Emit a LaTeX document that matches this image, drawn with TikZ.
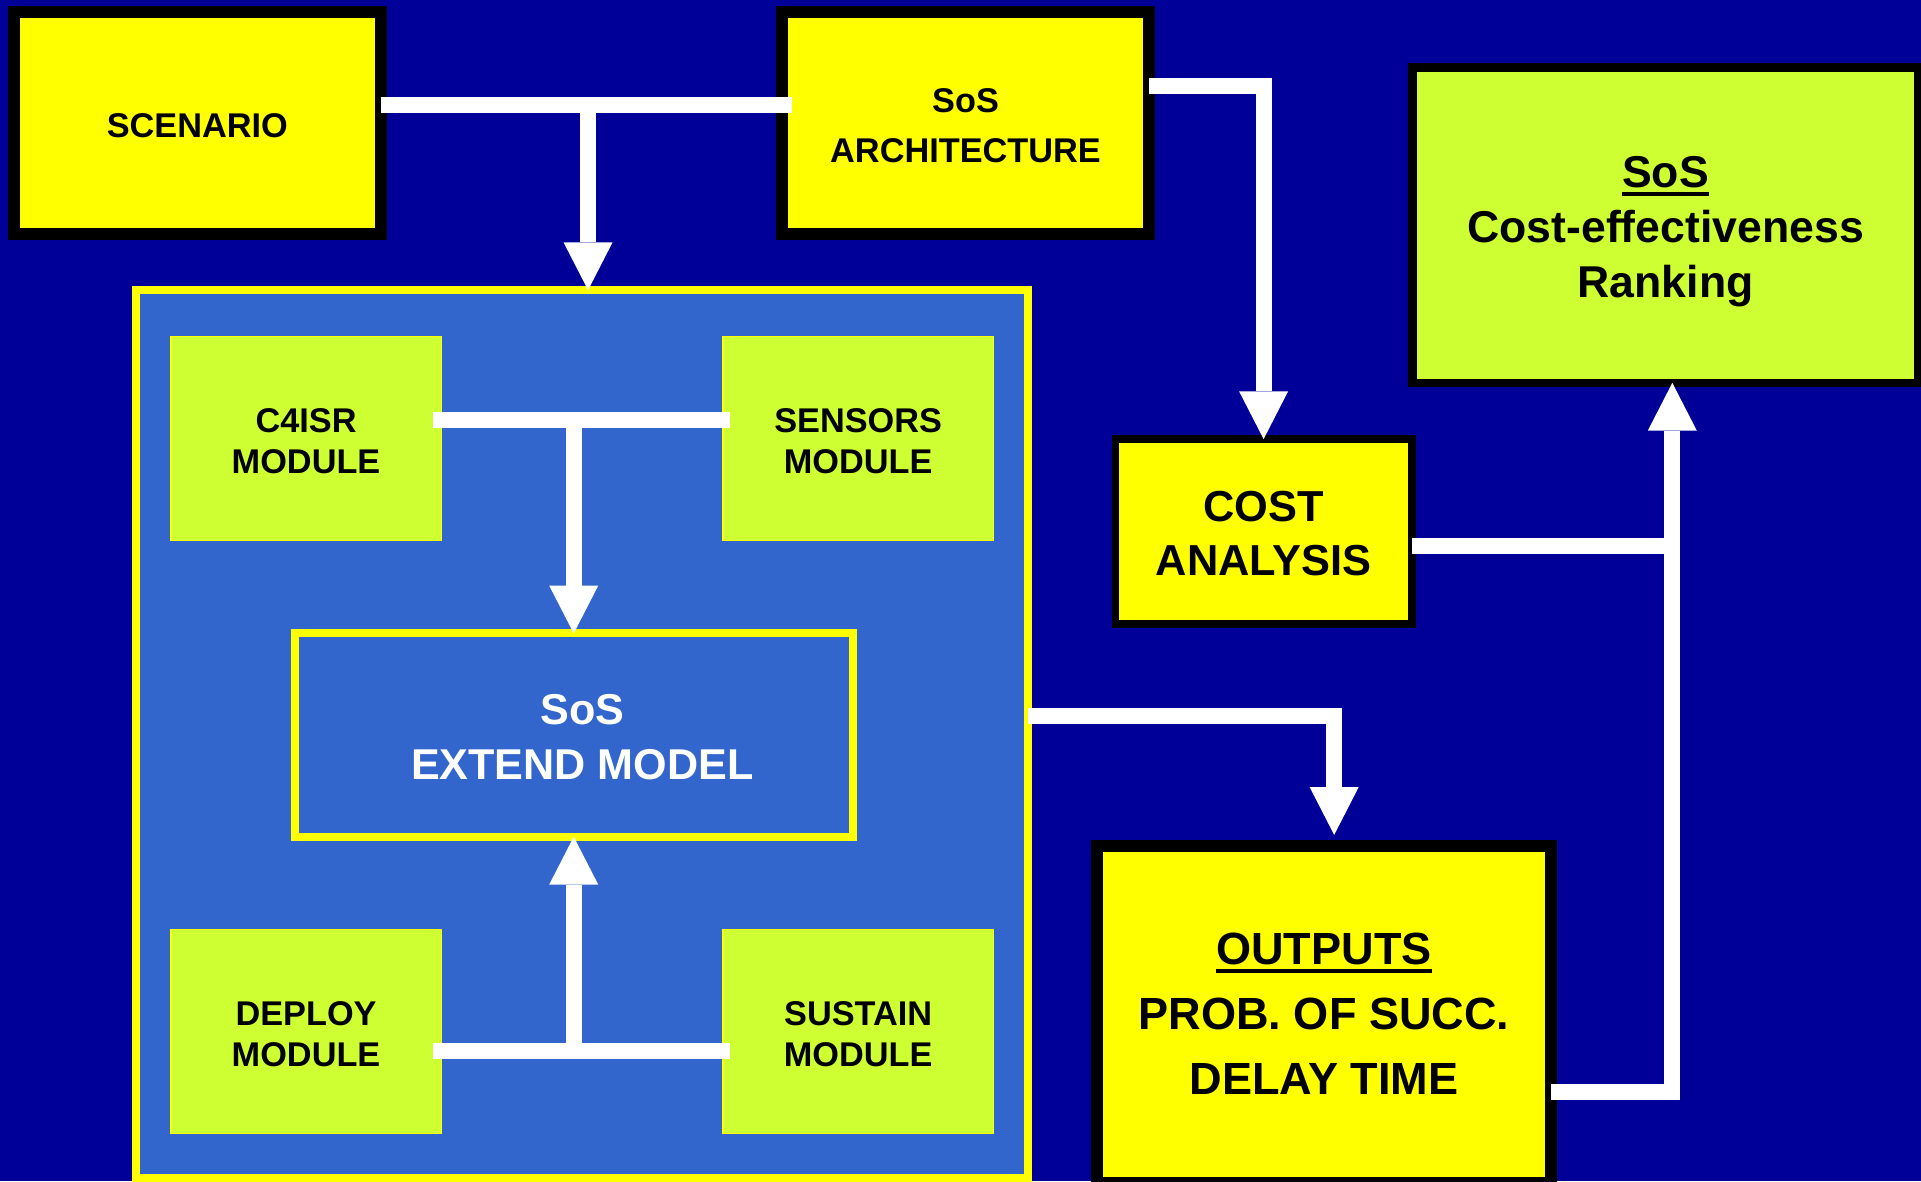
\documentclass[tikz,border=0pt]{standalone}
\usepackage{fontspec}
\setmainfont{Liberation Sans}
\usetikzlibrary{arrows.meta,calc}
\definecolor{bgblue}{RGB}{0,0,153}
\definecolor{yel}{RGB}{255,255,0}
\definecolor{lime}{RGB}{206,255,51}
\definecolor{cblue}{RGB}{51,102,204}
\newcommand{\myul}[1]{\setbox0\hbox{#1}\rlap{\rule[-3.2pt]{\wd0}{1.5pt}}\box0}
\newcommand{\lift}[1]{\rule{0pt}{#1}}
\tikzset{
  box/.style={rectangle, inner sep=0pt, outer sep=0pt, align=center, text=black},
  blackbox/.style={box, draw=black, fill=yel},
  module/.style={box, fill=lime, draw=yel, line width=0.5pt, minimum width=110.3pt, minimum height=83.4pt,
     font={\fontsize{14}{16.5}\selectfont\bfseries}},
  bar/.style={draw=white, line width=6.5pt, line cap=butt, line join=miter},
  arr/.style={bar, -{Triangle[width=20pt,length=19.5pt,line width=0pt]}}
}
\begin{document}
\begin{tikzpicture}[x=0.5pt,y=-0.5pt]
\useasboundingbox (0,0) rectangle (1568,964);
\clip (0,0) rectangle (1568,964);
\fill[bgblue] (0,0) rectangle (1568,964);

% top row
\node[blackbox, line width=4.85pt, minimum width=149.6pt, minimum height=90.7pt,
  font={\fontsize{14}{20.5}\selectfont\bfseries}] (scen) at (161.1,100.5) {\lift{12pt}SCENARIO};
\node[blackbox, line width=4.8pt, minimum width=149.6pt, minimum height=90.6pt,
  font={\fontsize{14}{20.5}\selectfont\bfseries}] (arch) at (788.1,100.4) {\lift{12pt}SoS\\ARCHITECTURE};
\node[box, draw=black, fill=lime, line width=3.5pt, minimum width=206.5pt, minimum height=128.6pt,
  font={\fontsize{18.2}{22.3}\selectfont\bfseries}] (rank) at (1359.5,183.9) {\lift{18pt}\myul{SoS}\\Cost-effectiveness\\Ranking};
\node[blackbox, line width=3.1pt, minimum width=121pt, minimum height=75.5pt,
  font={\fontsize{17.7}{22}\selectfont\bfseries}] (cost) at (1031.4,433.9) {\lift{14pt}COST\\ANALYSIS};
\node[blackbox, line width=4.7pt, minimum width=185.3pt, minimum height=137.3pt,
  font={\fontsize{18.4}{26.5}\selectfont\bfseries}] (outp) at (1080.7,827.75) {\myul{OUTPUTS}\\PROB. OF SUCC.\\DELAY TIME};

% container
\node[box, draw=yel, fill=cblue, line width=3.2pt, minimum width=363.9pt, minimum height=362.4pt] (cont) at (474.9,599.2) {};
\node[module] (c4) at (249.8,357.8) {\lift{12pt}C4ISR\\MODULE};
\node[module] (sens) at (700.5,357.8) {\lift{12pt}SENSORS\\MODULE};
\node[module] (depl) at (249.8,841.9) {\lift{12pt}DEPLOY\\MODULE};
\node[module] (sust) at (700.5,841.9) {\lift{12pt}SUSTAIN\\MODULE};
\node[box, draw=yel, fill=cblue, line width=3.2pt, minimum width=227.7pt, minimum height=83pt, text=white,
  font={\fontsize{17.6}{22.5}\selectfont\bfseries}] (ext) at (468.3,600) {\lift{14pt}\hspace*{7pt}SoS\\\hspace*{7pt}EXTEND MODEL};

% connectors
\coordinate (j1) at (480,85.5);
\draw[bar] (scen.east |- j1) -- ([xshift=4pt]arch.west |- j1);
\draw[arr] (j1) -- (j1 |- cont.north);

\draw[arr] ($(arch.east)+(0,-29.9)$) -| (cost.north);

\coordinate (j3) at (1365,446);
\draw[bar] (cost.east |- j3) -- (j3);
\draw[arr] ($(outp.east)+(0,63.75)$) -| ($(rank.south)+(5.5,0)$);

\draw[arr, shorten >=4.5pt] ($(cont.east)+(0,-14.5)$) -| ($(outp.north)+(8.3,0)$);

\coordinate (j5) at (468.3,342.7);
\draw[bar] ([xshift=-3.2pt]c4.east |- j5) -- ([xshift=3pt]sens.west |- j5);
\draw[arr] (j5) -- (ext.north);

\coordinate (j6) at (468.3,857.5);
\draw[bar] ([xshift=-3.2pt]depl.east |- j6) -- ([xshift=3pt]sust.west |- j6);
\draw[arr] (j6) -- (ext.south);
\end{tikzpicture}
\end{document}
